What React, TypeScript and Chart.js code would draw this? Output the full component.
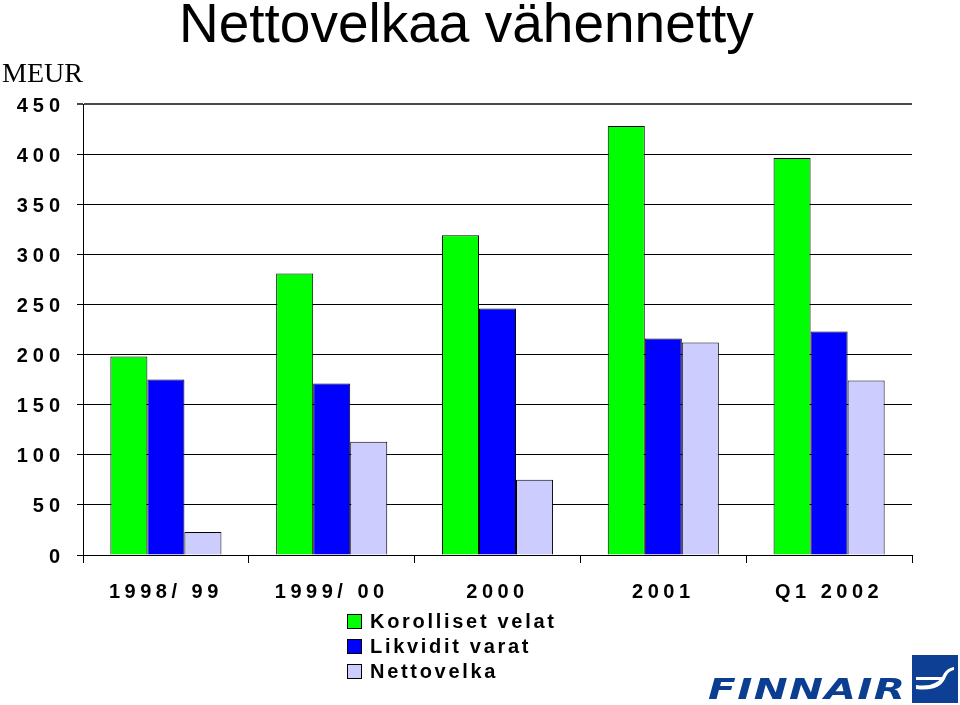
import React, { useEffect, useRef } from "react";
import { Chart, registerables } from "chart.js";

Chart.register(...registerables);

const categories = ["1998/ 99", "1999/ 00", "2000", "2001", "Q1 2002"];
const korollisetVelat = [198, 281, 319, 428, 396];
const likviditVarat = [175, 171, 246, 216, 223];
const nettovelka = [23, 113, 75, 212, 174];
const seriesNames = ["Korolliset velat", "Likvidit varat", "Nettovelka"];
const seriesColors = ["#00FF00", "#0000FF", "#CCCCFF"];
const yMax = 450;
const yStep = 50;

function patchLabels(scale: any, spacing: string, dy: number) {
  if (scale.__patched) return;
  scale.__patched = true;
  const orig = scale.drawLabels;
  scale.drawLabels = function (area: any) {
    const ctx = this.ctx;
    const prev = ctx.letterSpacing;
    ctx.save();
    ctx.translate(0, dy);
    ctx.letterSpacing = spacing;
    orig.call(this, area);
    ctx.restore();
    ctx.letterSpacing = prev || "0px";
  };
}

export default function App() {
  const ref = useRef<HTMLCanvasElement | null>(null);

  useEffect(() => {
    if (!ref.current) return;
    const chart = new Chart(ref.current, {
      type: "bar",
      data: {
        labels: categories,
        datasets: [korollisetVelat, likviditVarat, nettovelka].map((d, i) => ({
          label: seriesNames[i],
          data: d,
          backgroundColor: seriesColors[i],
          borderColor: "#000000",
          borderWidth: 1,
          barPercentage: 1,
          categoryPercentage: 0.67,
        })),
      },
      options: {
        responsive: false,
        animation: false,
        layout: { padding: { top: 104, right: 48, left: 0, bottom: 0 } },
        plugins: {
          legend: { display: false },
          title: { display: false },
          tooltip: { enabled: false },
        },
        scales: {
          x: {
            offset: true,
            grid: {
              display: true,
              offset: true,
              drawOnChartArea: false,
              drawTicks: true,
              tickLength: 8,
              color: "#000000",
              lineWidth: 1,
            },
            border: { display: true, color: "#000000", width: 1 },
            ticks: {
              color: "#000000",
              padding: 17,
              maxRotation: 0,
              autoSkip: false,
              font: { family: "'Liberation Sans', Arial, sans-serif", size: 20, weight: "bold" },
            },
            afterFit: (scale: any) => {
              scale.height = 150;
              patchLabels(scale, "4.5px", 0);
            },
          },
          y: {
            min: 0,
            max: yMax,
            ticks: {
              stepSize: yStep,
              color: "#000000",
              padding: 12,
              font: { family: "'Liberation Sans', Arial, sans-serif", size: 20, weight: "bold" },
            },
            grid: {
              color: (c: any) => (c.tick && c.tick.value === yMax ? "#4a4a4a" : "#000000"),
              lineWidth: (c: any) => (c.tick && c.tick.value === yMax ? 2 : 1),
              tickLength: 6,
              drawTicks: true,
            },
            border: { display: true, color: "#000000", width: 1 },
            afterFit: (scale: any) => {
              scale.width = 83;
              patchLabels(scale, "5px", 2);
            },
          },
        },
      },
    });
    return () => chart.destroy();
  }, []);

  const legendFont = "'Liberation Sans', Arial, sans-serif";

  return (
    <div style={{ position: "absolute", left: 0, top: 0, width: 960, height: 705, background: "#fff", overflow: "hidden" }}>
      <canvas ref={ref} width={960} height={705} style={{ position: "absolute", left: 0, top: 0 }} />
      <div
        style={{
          position: "absolute",
          left: 179,
          top: -4,
          fontFamily: "'Liberation Sans', Arial, sans-serif",
          fontSize: 55,
          lineHeight: "55px",
          color: "#000",
          whiteSpace: "nowrap",
        }}
      >
        Nettovelkaa vähennetty
      </div>
      <div
        style={{
          position: "absolute",
          left: 2,
          top: 59,
          fontFamily: "'Liberation Serif', 'Times New Roman', serif",
          fontSize: 28,
          lineHeight: "28px",
          color: "#000",
        }}
      >
        MEUR
      </div>
      <div style={{ position: "absolute", left: 347, top: 609 }}>
        {seriesNames.map((n, i) => (
          <div key={n} style={{ display: "flex", alignItems: "center", height: 25 }}>
            <div
              style={{
                width: 13,
                height: 13,
                background: seriesColors[i],
                border: "1px solid #000",
                marginRight: 8,
              }}
            />
            <span
              style={{
                fontFamily: legendFont,
                fontWeight: "bold",
                fontSize: 20,
                letterSpacing: "2.7px",
                color: "#000",
                whiteSpace: "nowrap",
              }}
            >
              {n}
            </span>
          </div>
        ))}
      </div>
      <div
        style={{
          position: "absolute",
          left: 708,
          top: 675,
          fontFamily: "'DejaVu Sans', sans-serif",
          fontStyle: "italic",
          fontWeight: "bold",
          fontSize: 29,
          lineHeight: "29px",
          color: "#0b3d91",
          letterSpacing: "1px",
          transformOrigin: "left top",
          transform: "scaleX(1.4)",
          whiteSpace: "nowrap",
        }}
      >
        FINNAIR
      </div>
      <svg style={{ position: "absolute", left: 912, top: 655 }} width={46} height={48} viewBox="0 0 46 48">
        <rect x={0} y={0} width={46} height={48} fill="#0d3f94" />
        <path d="M4 30 C18 32 26 28 30 22 C33 16 36 13 42 12 L42 15 C37 16 35 19 33 24 C29 32 20 36 4 34 Z" fill="#ffffff" />
        <path d="M4 22 L32 22 L30 25 L4 25 Z" fill="#ffffff" />
      </svg>
    </div>
  );
}
